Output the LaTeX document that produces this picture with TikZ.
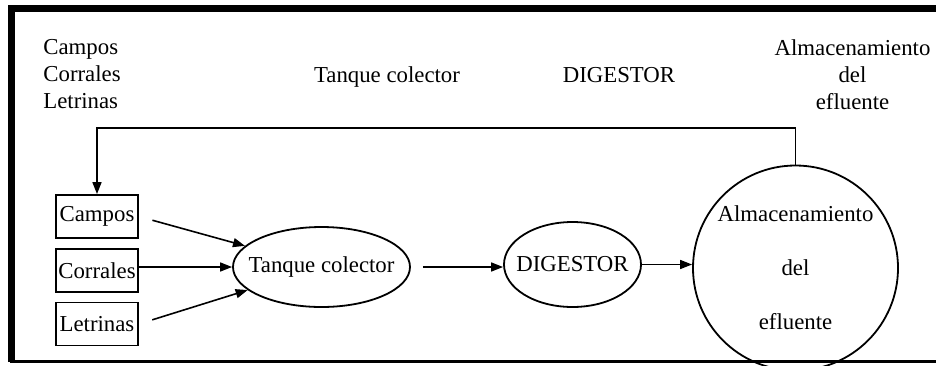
\documentclass[tikz,border=0pt]{standalone}
\usepackage{fontspec}
\setmainfont{Liberation Serif}
\usetikzlibrary{arrows.meta,shapes.geometric,positioning}

\begin{document}
\begin{tikzpicture}[x=0.5pt, y=-0.5pt,
  every node/.style={font=\fontsize{11.4}{13.5}\selectfont},
  source/.style={draw, line width=0.9pt, minimum width=41pt, minimum height=21.5pt, inner sep=0pt},
  tank/.style={draw, ellipse, line width=0.9pt, inner sep=0pt},
  flow/.style={-{Triangle[length=6pt,width=4.5pt]}, line width=0.8pt}]
  \useasboundingbox (0,0) rectangle (936,365);
  % frame
  \draw[line width=3.5pt] (936,8.5) -- (11.5,8.5) -- (11.5,362);
  \draw[line width=1.2pt] (10,361.5) -- (936,361.5);
  % labels along the top
  \node[align=left, anchor=west, inner sep=0pt] (lsrc) at (43,74.5) {Campos\\Corrales\\Letrinas};
  \node[anchor=base, inner sep=0pt] (ltank) at (387,82) {Tanque colector};
  \node[anchor=base, inner sep=0pt] (ldig) at (619,82) {DIGESTOR};
  \node[align=center, inner sep=0pt] (lstore) at (852.5,74.5) {Almacenamiento\\del\\efluente};
  % sources
  \node[source] (campos) at (97,216.5) {Campos};
  \node[source] (corrales) at (97,270.5) {Corrales};
  \node[source] (letrinas) at (97,324) {Letrinas};
  % process
  \node[tank, minimum width=88.5pt, minimum height=40pt] (tanque) at (321.5,267) {\makebox[0pt]{Tanque colector}};
  \node[tank, minimum width=68.5pt, minimum height=42.5pt] (digestor) at (572.5,264.5) {\makebox[0pt]{DIGESTOR}};
  \node[draw, circle, line width=0.9pt, minimum size=102.5pt, inner sep=0pt, align=center,
        font=\fontsize{11.4}{27}\selectfont] (store) at (795.5,268) {Almacenamiento\\del\\efluente};
  % connectors
  \draw[flow, shorten <=7pt] (campos.east) -- (tanque);
  \draw[flow] (corrales.east |- tanque.west) -- (tanque.west);
  \draw[flow, shorten <=7pt] (letrinas.east) -- (tanque);
  \draw[flow, shorten <=6pt] (tanque.east) -- (tanque.east -| digestor.west);
  \draw[flow] (digestor.east) -- (digestor.east -| store.west);
  \coordinate (turn) at (97,128);
  \draw[flow] (store.north) |- (turn) -- (campos.north);
\end{tikzpicture}
\end{document}
